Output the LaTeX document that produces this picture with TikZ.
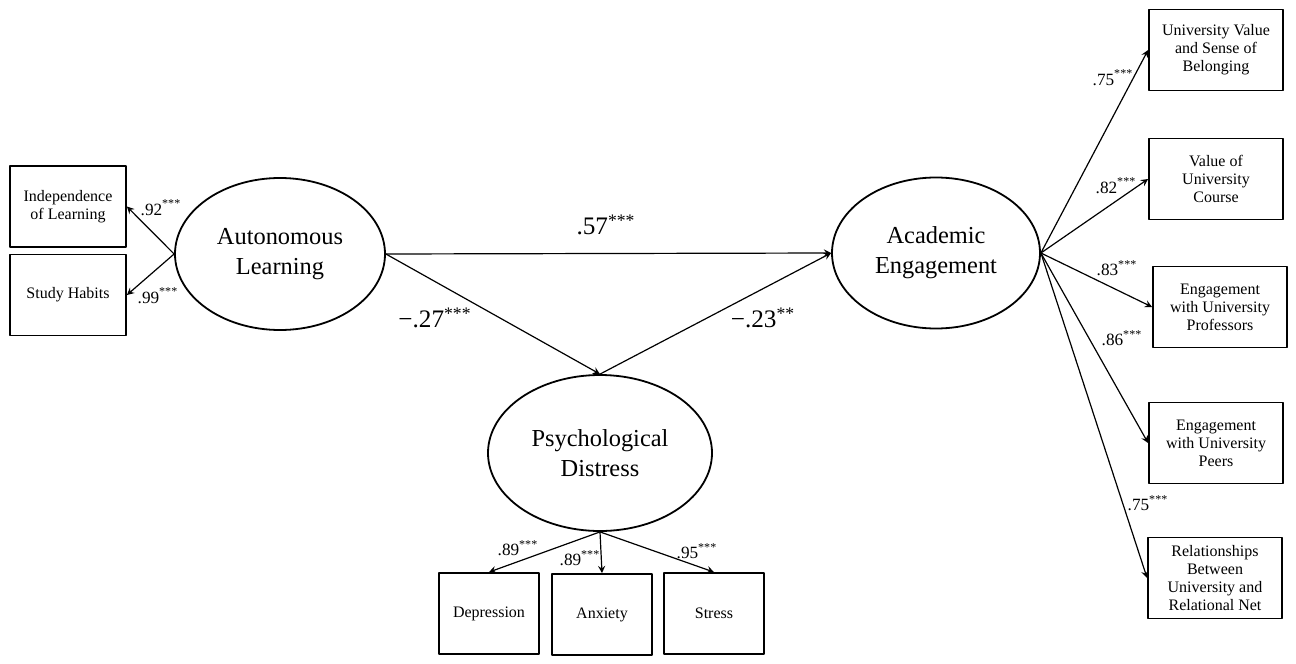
\documentclass[tikz,border=0pt]{standalone}
\usepackage{fontspec}
\setmainfont{Liberation Serif}
\usetikzlibrary{arrows}
\usetikzlibrary{shapes.geometric}

\begin{document}
\begin{tikzpicture}[x=0.5pt, y=-0.5pt, line cap=round, line join=round, >=stealth,
  latent/.style={ellipse, draw, line width=0.9pt, inner sep=0pt, align=center,
    minimum width=105pt, minimum height=76pt, font=\fontsize{12.2}{15}\selectfont},
  manifest/.style={rectangle, draw, line width=0.9pt, inner sep=1pt, align=center,
    minimum width=67pt, minimum height=40.5pt, font=\fontsize{8}{9}\selectfont},
  path/.style={->, line width=0.6pt},
  coef/.style={inner sep=0pt, font=\fontsize{12.6}{14}\selectfont},
  load/.style={inner sep=0pt, font=\fontsize{8.6}{10}\selectfont}]
  \useasboundingbox (0, 0) rectangle (1296, 664);
  %--- Latent variables
    \node[latent] (auto) at (280, 254) {Autonomous\\ Learning};
    \node[latent, minimum width=104pt, minimum height=75.5pt] (acad) at (936, 253) {Academic\\ Engagement};
    \node[latent, minimum width=112pt, minimum height=78pt] (psy) at (600, 453) {Psychological\\ Distress};
  %--- Autonomous learning indicators
    \node[manifest, minimum width=58pt] (indep) at (68, 206.5) {Independence\\ of Learning};
    \node[manifest, minimum width=58pt] (study) at (68, 295) {Study Habits};
  %--- Psychological distress indicators
    \node[manifest, minimum width=50pt] (depr) at (489, 613.5) {Depression};
    \node[manifest, minimum width=50pt] (anx) at (602, 614.5) {Anxiety};
    \node[manifest, minimum width=50pt] (stress) at (714, 613.5) {Stress};
  %--- Academic engagement indicators
    \node[manifest] (belong) at (1216, 50) {University Value\\ and Sense of\\ Belonging};
    \node[manifest] (course) at (1216, 179) {Value of\\ University\\ Course};
    \node[manifest] (prof) at (1220, 307) {Engagement\\ with University\\ Professors};
    \node[manifest] (peers) at (1216, 443) {Engagement\\ with University\\ Peers};
    \node[manifest] (relnet) at (1215, 578) {Relationships\\ Between\\ University and\\ Relational Net};
  % Structural paths
    \draw[path] (auto.east) -- (acad.west);
    \draw[path] (auto.east) -- (psy.north);
    \draw[path] (psy.north) -- (acad.west);
    \node[coef] (c57) at (606, 225) {.57\textsuperscript{***}};
    \node[coef] (c27) at (435, 318) {−.27\textsuperscript{***}};
    \node[coef] (c23) at (763, 318) {−.23\textsuperscript{**}};
  % Loadings
    \draw[path] (auto.west) -- (indep.east);
    \draw[path] (auto.west) -- (study.east);
    \draw[path] (psy.south) -- (depr.north);
    \draw[path] (psy.south) -- (anx.north);
    \draw[path] (psy.south) -- (stress.north);
    \draw[path] (acad.east) -- (belong.west);
    \draw[path] (acad.east) -- (course.west);
    \draw[path] (acad.east) -- (prof.west);
    \draw[path] (acad.east) -- (peers.west);
    \draw[path] (acad.east) -- (relnet.west);
    \node[load] (l92) at (161, 208) {.92\textsuperscript{***}};
    \node[load] (l99) at (158, 296) {.99\textsuperscript{***}};
    \node[load] (l89a) at (518, 548) {.89\textsuperscript{***}};
    \node[load] (l89b) at (580, 558) {.89\textsuperscript{***}};
    \node[load] (l95) at (697, 551) {.95\textsuperscript{***}};
    \node[load] (l75a) at (1113, 78) {.75\textsuperscript{***}};
    \node[load] (l82) at (1116, 186) {.82\textsuperscript{***}};
    \node[load] (l83) at (1117, 268) {.83\textsuperscript{***}};
    \node[load] (l86) at (1122, 338) {.86\textsuperscript{***}};
    \node[load] (l75b) at (1148, 503) {.75\textsuperscript{***}};
\end{tikzpicture}
\end{document}
